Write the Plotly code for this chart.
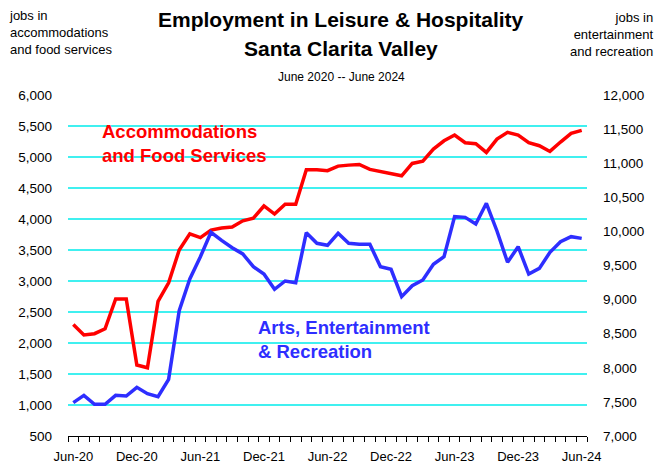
import plotly.graph_objects as go

months = ["Jun-20","Jul-20","Aug-20","Sep-20","Oct-20","Nov-20","Dec-20","Jan-21","Feb-21","Mar-21","Apr-21","May-21",
          "Jun-21","Jul-21","Aug-21","Sep-21","Oct-21","Nov-21","Dec-21","Jan-22","Feb-22","Mar-22","Apr-22","May-22",
          "Jun-22","Jul-22","Aug-22","Sep-22","Oct-22","Nov-22","Dec-22","Jan-23","Feb-23","Mar-23","Apr-23","May-23",
          "Jun-23","Jul-23","Aug-23","Sep-23","Oct-23","Nov-23","Dec-23","Jan-24","Feb-24","Mar-24","Apr-24","May-24",
          "Jun-24"]

accommodations_food = [2300, 2130, 2150, 2230, 2710, 2710, 1645, 1600, 2670, 2970, 3500, 3760,
                       3700, 3820, 3855, 3870, 3970, 4015, 4210, 4080, 4237, 4237, 4795, 4795,
                       4780, 4853, 4869, 4880, 4800, 4761, 4729, 4697, 4896, 4934, 5128, 5262,
                       5354, 5230, 5214, 5074, 5289, 5397, 5354, 5230, 5182, 5090, 5241, 5381,
                       5429]

arts_entertainment = [7489, 7596, 7464, 7464, 7596, 7586, 7714, 7621, 7577, 7831, 8838, 9302,
                      9629, 9986, 9869, 9761, 9669, 9483, 9375, 9151, 9273, 9248, 9981, 9825,
                      9796, 9972, 9825, 9810, 9810, 9483, 9444, 9043, 9204, 9287, 9517, 9629,
                      10216, 10206, 10108, 10412, 10006, 9547, 9776, 9375, 9458, 9693, 9849, 9923,
                      9898]

tick_labels = ["Jun-20", "Dec-20", "Jun-21", "Dec-21", "Jun-22", "Dec-22", "Jun-23", "Dec-23", "Jun-24"]

x_idx = list(range(len(months)))
tick_idx = [months.index(t) for t in tick_labels]
boundary_ticks = [i - 0.5 for i in range(len(months) + 1)]

FONT = "Liberation Sans Narrow, Arial Narrow, Liberation Sans, Arial, sans-serif"
RED = "#FF0000"
BLUE = "#2E2EFF"
GRID = "#40F0F0"

L, R, T, B = 68, 74, 95, 29
PW, PH = 661 - L - R, 465 - T - B
XRANGE = [-0.5, len(months) - 0.5]


def px(x):
    return (x - L) / PW


def py(y):
    return 1 + (T - y) / PH


fig = go.Figure()
fig.add_trace(go.Scatter(x=x_idx, y=accommodations_food, mode="lines",
                         line=dict(color=RED, width=3.5), name="Accommodations and Food Services"))
fig.add_trace(go.Scatter(x=x_idx, y=arts_entertainment, mode="lines", yaxis="y2",
                         line=dict(color=BLUE, width=3.5), name="Arts, Entertainment & Recreation"))
# helper trace so the tick-mark axis is drawn
fig.add_trace(go.Scatter(x=[XRANGE[0]], y=[accommodations_food[0]], xaxis="x2", yaxis="y",
                         mode="markers", marker=dict(opacity=0), hoverinfo="skip", showlegend=False))

fig.update_layout(
    width=661, height=465,
    margin=dict(l=L, r=R, t=T, b=B, autoexpand=False),
    paper_bgcolor="white", plot_bgcolor="white",
    showlegend=False,
    font=dict(family=FONT, size=13, color="black"),
    xaxis=dict(range=XRANGE, tickmode="array", tickvals=tick_idx, ticktext=tick_labels,
               ticks="", showgrid=False, zeroline=False, showline=True, linecolor="black", linewidth=1,
               automargin=False, ticklabelstandoff=8, tickfont=dict(family=FONT, size=13)),
    xaxis2=dict(range=XRANGE, overlaying="x", anchor="y", side="bottom", automargin=False,
                tickmode="array", tickvals=boundary_ticks, showticklabels=False,
                ticks="outside", ticklen=5, tickwidth=1, tickcolor="black",
                showgrid=False, zeroline=False, showline=False),
    yaxis=dict(range=[500, 6000], tickmode="linear", tick0=500, dtick=500, tickformat=",",
               showgrid=True, gridcolor=GRID, gridwidth=2, zeroline=False, showline=False,
               automargin=False, ticks="", ticklabelstandoff=15, tickfont=dict(family=FONT, size=13.5)),
    yaxis2=dict(range=[7000, 12000], tickmode="linear", tick0=7000, dtick=500, tickformat=",",
                overlaying="y", side="right", showgrid=False, zeroline=False, showline=False,
                automargin=False, ticks="", ticklabelstandoff=15, tickfont=dict(family=FONT, size=13.5)),
)

title_x = px(341)
for text, y, size in [("<b>Employment in Leisure & Hospitality</b>", 20, 21),
                      ("<b>Santa Clarita Valley</b>", 48, 21),
                      ("June 2020 -- June 2024", 77, 12)]:
    fig.add_annotation(xref="paper", yref="paper", x=title_x, y=py(y), text=text, showarrow=False,
                       xanchor="center", yanchor="middle",
                       font=dict(family=FONT, size=size, color="black"))

# axis titles (top corners)
fig.add_annotation(xref="paper", yref="paper", x=px(7), y=py(33),
                   text="jobs in<br>accommodations<br>and food services", showarrow=False,
                   xanchor="left", yanchor="middle", align="left",
                   font=dict(family=FONT, size=13, color="black"))
fig.add_annotation(xref="paper", yref="paper", x=px(656), y=py(35),
                   text="jobs in<br>entertainment<br>and recreation", showarrow=False,
                   xanchor="right", yanchor="middle", align="right",
                   font=dict(family=FONT, size=13, color="black"))

# series labels
fig.add_annotation(xref="paper", yref="paper", x=px(100), y=py(143),
                   text="<b>Accommodations<br>and Food Services</b>", showarrow=False,
                   xanchor="left", yanchor="middle", align="left",
                   font=dict(family=FONT, size=18.5, color=RED))
fig.add_annotation(xref="paper", yref="paper", x=px(256), y=py(339),
                   text="<b>Arts, Entertainment<br>& Recreation</b>", showarrow=False,
                   xanchor="left", yanchor="middle", align="left",
                   font=dict(family=FONT, size=18.5, color=BLUE))

fig.write_html("out.html", config={"displayModeBar": False},
               post_script="document.body.style.margin='0';")
